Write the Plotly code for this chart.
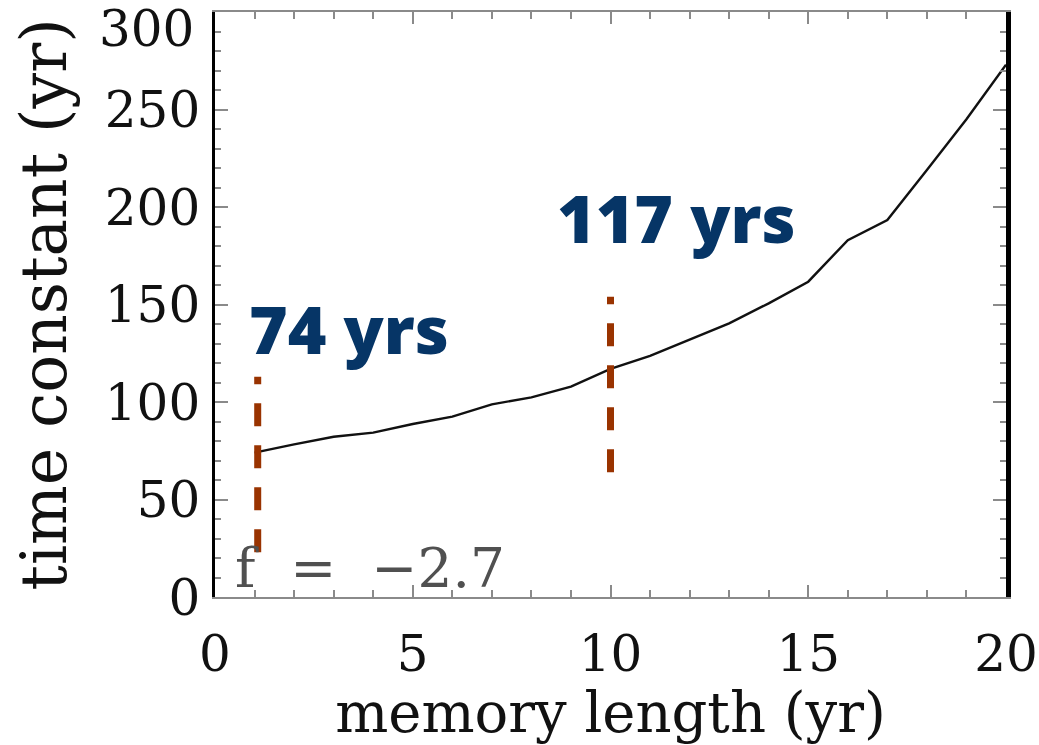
import plotly.graph_objects as go

# Time constant versus memory length for f = -2.7
memory_length = [1, 2, 3, 4, 5, 6, 7, 8, 9, 10, 11, 12, 13, 14, 15, 16, 17, 18, 19, 20]
time_constant = [74, 78.3, 82.2, 84.3, 88.7, 92.5, 98.8, 102.4, 107.9, 117,
                 123.6, 132, 140.3, 150.6, 161.7, 183, 193.3, 219, 245, 273]

# Highlighted memory lengths and their vertical marker extents
marker_x = [1.08, 10]
marker_bottom = [23, 64]
marker_top = [113, 154]
marker_labels = ["74 yrs", "117 yrs"]
label_x = [0.81, 8.6]
label_y = [138, 195]

x_ticks = [0, 5, 10, 15, 20]
y_ticks = [0, 50, 100, 150, 200, 250, 300]
y_top = y_ticks[-1]

SERIF = "DejaVu Serif"
INK = "#111111"
MARK = "#993300"
NAVY = "#063566"
TICKGRAY = "#8a8a8a"

fig = go.Figure()

fig.add_trace(go.Scatter(
    x=memory_length, y=time_constant, mode="lines",
    line=dict(color=INK, width=2.4), showlegend=False, hoverinfo="skip",
))

for mx, lo, hi in zip(marker_x, marker_bottom, marker_top):
    fig.add_trace(go.Scatter(
        x=[mx, mx], y=[lo, hi], mode="lines",
        line=dict(color=MARK, width=7, dash="23px,19px"),
        showlegend=False, hoverinfo="skip",
    ))

# invisible trace to activate the right-hand frame axis
fig.add_trace(go.Scatter(x=[0], y=[0], yaxis="y2", mode="markers",
                         marker=dict(opacity=0), showlegend=False, hoverinfo="skip"))

for text, lx, ly in zip(marker_labels, label_x, label_y):
    fig.add_annotation(
        x=lx, y=ly, xref="x", yref="y", text=text, showarrow=False,
        xanchor="left", yanchor="middle",
        font=dict(family="Open Sans", size=66, color=NAVY, weight=800),
    )

fig.add_annotation(
    x=0.45, y=15, xref="x", yref="y", text="f  =  \u22122.7", showarrow=False,
    xanchor="left", yanchor="middle",
    font=dict(family=SERIF, size=55, color="#505050"),
)

# top y label sits just inside the frame
fig.add_annotation(
    x=0, y=y_top, xref="paper", yref="y", text=str(y_top), showarrow=False,
    xanchor="right", yanchor="middle", xshift=-20, yshift=-17, borderpad=0,
    font=dict(family=SERIF, size=50, color=INK),
)

# vertical axis title
fig.add_annotation(
    x=-0.215, y=0.5, xref="paper", yref="paper", text="time constant (yr)",
    showarrow=False, textangle=-90, xanchor="center", yanchor="middle",
    font=dict(family=SERIF, size=63, color=INK),
)

fig.update_layout(
    width=1039, height=745,
    margin=dict(l=215, r=33, t=12, b=148),
    paper_bgcolor="white", plot_bgcolor="white",
    font=dict(family=SERIF, color=INK),
    xaxis=dict(
        range=[0, 20], tickvals=x_ticks, ticktext=[str(v) for v in x_ticks],
        showgrid=False, zeroline=False, automargin=False,
        showline=True, linecolor=TICKGRAY, linewidth=2, mirror="ticks",
        ticks="inside", ticklen=12, tickwidth=2, tickcolor=TICKGRAY,
        minor=dict(dtick=1, ticks="inside", ticklen=7, tickwidth=1.5, tickcolor=TICKGRAY),
        tickfont=dict(family=SERIF, size=50, color=INK),
        ticklabelstandoff=12,
        title=dict(text="memory length (yr)", font=dict(family=SERIF, size=56, color=INK),
                   standoff=10),
    ),
    yaxis=dict(
        range=[0, 300], tickvals=y_ticks,
        ticktext=[str(v) if v != y_top else "" for v in y_ticks],
        showgrid=False, zeroline=False, automargin=False,
        showline=True, linecolor="#000000", linewidth=2.5,
        ticks="inside", ticklen=13, tickwidth=2, tickcolor=TICKGRAY,
        minor=dict(dtick=10, ticks="inside", ticklen=6, tickwidth=1.5, tickcolor=TICKGRAY),
        tickfont=dict(family=SERIF, size=50, color=INK),
        ticklabelstandoff=2,
    ),
    yaxis2=dict(
        range=[0, 300], overlaying="y", side="right", anchor="x", automargin=False,
        showgrid=False, zeroline=False, showticklabels=False,
        showline=True, linecolor="#000000", linewidth=4.5,
        ticks="inside", ticklen=13, tickwidth=2, tickcolor=TICKGRAY, tickvals=y_ticks,
        minor=dict(dtick=10, ticks="inside", ticklen=6, tickwidth=1.5, tickcolor=TICKGRAY),
    ),
)

fig.write_html("out.html")
